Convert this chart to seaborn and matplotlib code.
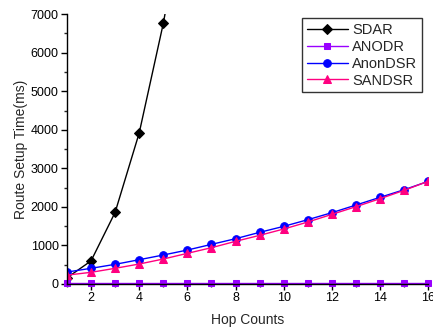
import matplotlib
matplotlib.use("Agg")
import matplotlib.pyplot as plt
import seaborn as sns
import pandas as pd
from matplotlib.ticker import MultipleLocator

sns.set_style("ticks")
plt.rcParams['font.family'] = ['Liberation Sans', 'DejaVu Sans']

hops = list(range(1, 17))
sdar_x = [1, 2, 3, 4, 5, 6]
sdar = [160, 600, 1860, 3920, 6760, 10200]
anodr = [20] * 16
anondsr = [310, 407, 510, 630, 752, 881, 1028, 1175, 1340, 1495, 1668, 1850, 2048, 2248, 2445, 2662]
sandsr = [230, 303, 407, 518, 648, 795, 942, 1106, 1262, 1426, 1607, 1806, 2005, 2213, 2429, 2665]

fig = plt.figure(figsize=(4.33, 3.29), dpi=100)
ax = fig.add_axes([0.1547, 0.1368, 0.834, 0.82])

styles = [
    ("SDAR", sdar_x, sdar, "black", "D", 5),
    ("ANODR", hops, anodr, "#9900ff", "s", 4.5),
    ("AnonDSR", hops, anondsr, "#0000ff", "o", 5.5),
    ("SANDSR", hops, sandsr, "#ff0080", "^", 6),
]
for name, xs, ys, c, m, ms in styles:
    df = pd.DataFrame({"x": xs, "y": ys})
    sns.lineplot(data=df, x="x", y="y", ax=ax, color=c, marker=m, markersize=ms,
                 markeredgecolor=c, linewidth=1.0, label=name,
                 clip_on=(name != "ANODR"))

ax.set_xlim(1, 16)
ax.set_ylim(0, 7000)
ax.xaxis.set_major_locator(MultipleLocator(2))
ax.xaxis.set_minor_locator(MultipleLocator(1))
ax.yaxis.set_major_locator(MultipleLocator(1000))
ax.yaxis.set_minor_locator(MultipleLocator(500))
ax.tick_params(axis="both", which="major", direction="out", length=4, width=1,
               labelsize=9, pad=2, colors="black")
ax.tick_params(axis="both", which="minor", direction="out", length=2.5, width=1)
for s in ["top", "right"]:
    ax.spines[s].set_visible(False)
for s in ["left", "bottom"]:
    ax.spines[s].set_color("black")
    ax.spines[s].set_linewidth(1)

ax.set_xlabel("Hop Counts", fontsize=10, labelpad=6)
ax.set_ylabel("Route Setup Time(ms)", fontsize=10, labelpad=2)

leg = ax.legend(loc="upper right", bbox_to_anchor=(0.99, 0.995), fontsize=10.5,
                frameon=True, fancybox=False, edgecolor="black",
                handlelength=2.8, handletextpad=0.3, borderpad=0.3,
                labelspacing=0.2, borderaxespad=0.2)
leg.get_frame().set_linewidth(1)

fig.savefig("out.png", dpi=100)
